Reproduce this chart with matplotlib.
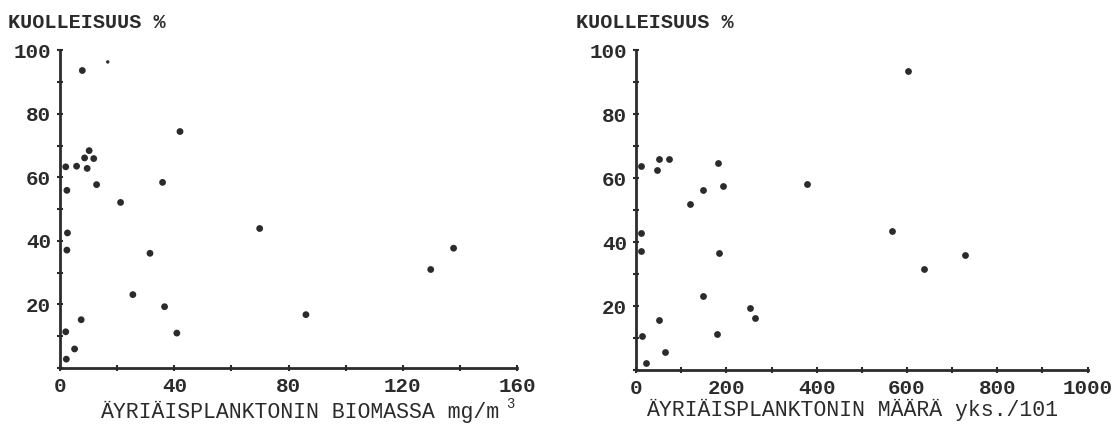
"""Kuolleisuus vs. äyriäisplankton -- two scatter panels, scanned-figure style."""
import matplotlib
matplotlib.use("Agg")
import matplotlib.pyplot as plt
from matplotlib.ticker import MultipleLocator

# left panel: biomass (mg/m3) vs mortality (%)
biomassa = [7.8, 16.7, 42.0, 10.2, 8.6, 11.8, 2.0, 5.8, 9.5, 12.8, 2.4, 21.2,
            35.9, 69.9, 2.6, 2.4, 31.5, 25.5, 36.6, 7.4, 2.0, 40.9, 5.1, 2.2,
            137.8, 129.8, 86.1]
kuolleisuus_b = [93.6, 96.3, 74.4, 68.4, 66.1, 65.9, 63.3, 63.5, 62.8, 57.7,
                 55.9, 52.1, 58.4, 43.9, 42.5, 37.1, 36.1, 23.1, 19.3, 15.2,
                 11.4, 11.0, 6.0, 2.8, 37.7, 31.0, 16.8]
small_b = [1]  # index of the tiny dot near the top

# right panel: count (yks./10 l) vs mortality (%)
maara = [11, 46, 50, 73, 181, 147, 192, 120, 379, 11, 11, 183, 147, 252, 264,
         51, 13, 179, 63, 22, 603, 566, 729, 637]
kuolleisuus_m = [63.8, 62.7, 66.0, 66.0, 64.6, 56.3, 57.4, 51.9, 58.3, 43.0,
                 37.3, 36.5, 23.2, 19.3, 16.4, 15.8, 10.8, 11.3, 5.7, 2.1,
                 93.4, 43.5, 36.0, 31.5]

INK = "#2b2b2b"
MONO = "Liberation Mono"

fig = plt.figure(figsize=(11.2, 4.25), dpi=100)
ax1 = fig.add_axes([0.0536, 0.134, 0.408, 0.748])
ax2 = fig.add_axes([0.568, 0.129, 0.403, 0.753])


def style(ax, xmax, xmajor, xminor):
    ax.set_xlim(0, xmax)
    ax.set_ylim(0, 100)
    for s in ("top", "right"):
        ax.spines[s].set_visible(False)
    for s in ("left", "bottom"):
        ax.spines[s].set_color(INK)
        ax.spines[s].set_linewidth(2.0)
    ax.xaxis.set_major_locator(MultipleLocator(xmajor))
    ax.xaxis.set_minor_locator(MultipleLocator(xminor))
    ax.yaxis.set_major_locator(MultipleLocator(20))
    ax.yaxis.set_minor_locator(MultipleLocator(10))
    ax.tick_params(which="both", direction="inout", color=INK, width=1.5,
                   labelcolor=INK, labelsize=15)
    ax.tick_params(which="major", length=5, pad=4)
    ax.tick_params(which="minor", length=4)
    for lab in ax.get_xticklabels():
        lab.set_fontfamily(MONO)
        lab.set_fontweight("bold")
    ax.set_yticks([20, 40, 60, 80, 100])
    ax.set_yticklabels(["20", "40", "60", "80", "100"], fontfamily=MONO,
                       fontweight="bold")


style(ax1, 160, 40, 20)
style(ax2, 1000, 200, 100)

sizes_b = [6 if i in small_b else 24 for i in range(len(biomassa))]
ax1.scatter(biomassa, kuolleisuus_b, s=sizes_b, color=INK, clip_on=False,
            zorder=3, linewidths=0)
ax2.scatter(maara, kuolleisuus_m, s=24, color=INK, clip_on=False, zorder=3,
            linewidths=0)

tkw = dict(family=MONO, color=INK, fontsize=15.5)
fig.text(8 / 1120, 1 - 22 / 425, "KUOLLEISUUS %", va="center", ha="left",
         fontweight="bold", family=MONO, color=INK, fontsize=14.5)
fig.text(576 / 1120, 1 - 22 / 425, "KUOLLEISUUS %", va="center", ha="left",
         fontweight="bold", family=MONO, color=INK, fontsize=14.5)
fig.text(300 / 1120, 1 - 412 / 425, "ÄYRIÄISPLANKTONIN BIOMASSA mg/m",
         va="center", ha="center", **tkw)
fig.text(506 / 1120, 1 - 404 / 425, "3", va="center", ha="left",
         family=MONO, color=INK, fontsize=10)
fig.text(852 / 1120, 1 - 410 / 425, "ÄYRIÄISPLANKTONIN MÄÄRÄ yks./101",
         va="center", ha="center", **tkw)

fig.savefig("out.png", dpi=100)
